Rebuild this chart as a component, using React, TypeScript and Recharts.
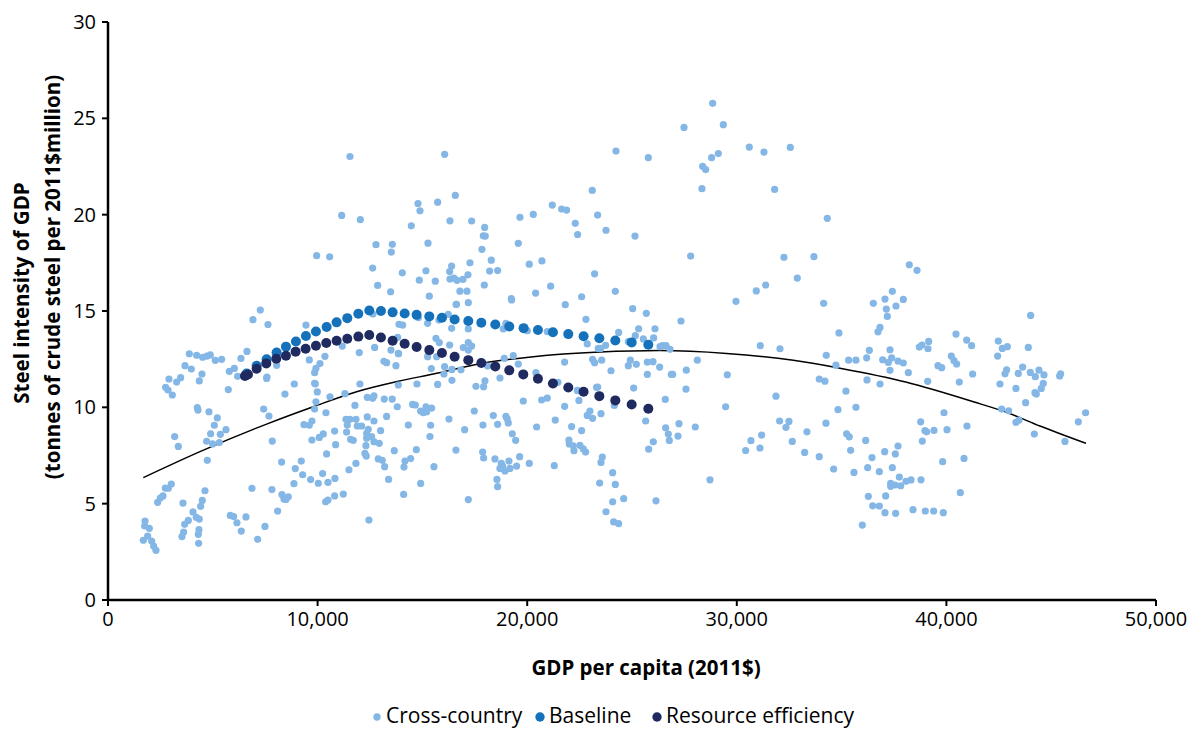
import React from 'react';
import { ScatterChart, Scatter, XAxis, YAxis, Legend } from 'recharts';

const FONT = '"Open Sans", sans-serif';
const LIGHT = '#85B7E6';
const MID = '#1571BA';
const DARK = '#1F2A60';

const crossCountry: [number, number][] = [
[3880,12.78],[4230,12.7],[4515,12.6],[4722,12.66],[4881,12.72],[5120,12.44],[5422,12.49],[3673,12.16],[3975,11.99],[4483,11.73],[4356,11.37],[3466,11.54],[3275,11.31],[2909,11.47],[2750,11.04],[2862,10.9],[3068,10.64],[5787,11.87],[6026,12.02],[6344,12.54],[6630,12.9],[6185,11.61],[5740,10.92],[8045,12.18],[7568,11.5],[7584,11.57],[8442,10.69],[8888,11.21],[9603,12.46],[10112,12.27],[9921,12.02],[10350,12.65],[9858,11.8],[9858,11.25],[9890,11.22],[9985,10.8],[9921,10.29],[9858,9.91],[10589,10.55],[10398,9.72],[11305,10.71],[11177,13.18],[11988,12.84],[12720,13.11],[12020,11.21],[12370,10.52],[12625,10.47],[12688,10.59],[13180,10.43],[13560,10.43],[13800,10.03],[11782,10.1],[13292,9.53],[13500,12.97],[13165,12.39],[13292,12.32],[13737,12.16],[13850,12.8],[13850,11.16],
[7266,15.05],[6916,14.55],[7632,14.3],[9445,14.27],[12640,14.84],
[4261,9.98],[4293,9.86],[4817,9.77],[5215,9.45],[5072,9.07],[5628,8.84],[4897,8.63],[5358,8.6],[4706,8.24],[4992,8.1],[5310,8.17],[3180,8.48],[3355,7.97],[4738,7.25],[7425,9.91],[7680,9.55],[9349,9.1],[9603,9.07],[9730,9.29],[7838,8.25],[9730,8.3],[10080,8.44],[10271,8.62],[10812,8.77],[10859,8.06],[10430,7.58],[11352,9.38],[11543,9.38],[11829,9.38],[11416,9.08],[12370,9.5],[12688,9.29],[11893,9.03],[12100,9.03],[12418,8.86],[11384,8.72],[11575,8.34],[11702,8.29],[12338,8.65],[12577,8.48],[12340,8.4],[12688,8.22],[12942,8.13],[13006,8.79],[12306,8.01],[13658,7.75],[12259,7.61],[12322,7.47],[12895,7.32],[13085,7.25],[13197,6.92],[13387,6.26],[11829,7.09],[11495,6.76],[9222,7.21],[8935,6.82],[8284,7.16],[9285,6.5],[9667,6.25],[10033,6.06],[10239,6.56],[10494,6.1],[10828,6.31],[8872,6.04],[6868,5.8],[7822,5.73],[8299,5.47],[8395,5.24],[8602,5.36],[8490,5.22],[11225,5.5],[10812,5.4],[10494,5.19],[10383,5.1],[8093,4.62],[12449,4.15],
[3021,6.02],[2734,5.81],[2878,5.8],[2623,5.4],[2496,5.29],[2369,5.07],[4627,5.67],[4499,5.17],[4420,4.86],[3577,5.03],[4054,4.57],[4213,4.29],[4356,4.2],[3832,4.13],[3657,3.93],[3609,3.53],[3529,3.29],[4340,3.65],[4309,3.41],[4324,2.94],[5835,4.39],[5994,4.33],[6153,4.01],[6582,4.31],[6360,3.58],[7490,3.82],[7139,3.15],[1765,4.1],[1749,3.84],[1971,3.72],[1892,3.32],[1685,3.1],[2083,3.06],[2178,2.8],[2289,2.58],
[13882,14.31],[14057,14.27],[13819,13.63],[13866,12.78],[14534,10.15],[14661,10.12],[14328,9.08],[15393,9.07],[15361,8.48],[14916,9.81],[15043,9.72],[15170,10.03],[15202,9.77],[15440,9.96],[14709,7.8],[14439,7.34],[14168,7.21],[14121,6.9],[15552,6.92],[14916,6.05],[14105,5.48],[16267,9.39],[17015,8.84],[16601,7.78],[17190,5.21],[17476,9.81],[18382,9.57],[18589,9.12],[17889,9.08],[18986,9.53],[19050,9.39],[19098,9.19],[19288,8.63],[19447,8.29],[20449,8.98],[21339,9.34],[21785,10.05],[19813,10.33],[20688,10.38],[20958,10.48],[22468,10.36],[22993,9.81],[22866,9.58],[23120,9.43],[22118,9],[22596,8.79],[21991,8.3],[22007,8.1],[22198,8],[22230,7.75],[22516,8.03],[22675,7.84],[22786,7.68],[21292,6.97],[20099,7.09],[19638,7.44],[19495,6.95],[19129,7.21],[18764,7.09],[18827,6.95],[18700,6.83],[18939,6.7],[19177,6.83],[18461,7.32],[17873,7.68],[17921,7.37],[18557,6.26],[18589,5.88],
[15250,12.63],[15679,12.63],[15647,13.58],[15806,13.36],[16299,13.23],[16951,13.1],[17190,13.36],[17349,13.18],[17190,12.97],[15425,12.01],[16061,12.11],[16029,11.73],[16410,11.97],[16840,11.95],[16410,11.4],[15727,11.19],[14741,11.21],[17555,11.09],[17921,11.07],[17985,11.38],[18700,11.52],[19575,12.25],[18907,12.54],[19336,12.68],[18112,12.14],[20417,11.8],[21467,11.3],[21785,12.35],[23120,12.49],[23215,12.32],[23310,11.04],[22437,10.86],[16235,14.83],[15790,14.53],[15250,14.36],[16394,14.1],[17190,14.07],[14805,14.65],[18859,14.07],[18986,14.36],[20004,13.98],[20958,13.93],[22802,14.57],[22866,13.29],[16617,15.35],[17190,15.43],[19256,15.57],[21816,15.33],[23390,13.06],
[11545,23.02],[16061,23.13],[16569,21],[14789,20.58],[15727,20.65],[14884,20.2],[11148,19.96],[12038,19.74],[16315,19.68],[17349,19.67],[17969,19.34],[17905,18.9],[18000,18.89],[14471,19.42],[12785,18.44],[13564,18.46],[13517,18.06],[15266,18.52],[17841,18.2],[9955,17.87],[10575,17.81],[12626,17.23],[14041,16.98],[15170,17.09],[16394,17.33],[16299,17.05],[17269,17.5],[17174,16.88],[18287,17.64],[18207,17.07],[18589,17.1],[14852,16.6],[15615,16.55],[16315,16.66],[16506,16.71],[16649,16.59],[16935,16.64],[12865,16.33],[13485,16],[15329,15.77],[16792,16.03],[17126,16.03],[17953,16.35],[16617,15.34],[19241,15.65],[19575,18.51],[19654,19.86],[20290,20.01],[21196,20.5],[21642,20.29],[21880,20.24],[22293,19.55],[22405,18.97],[23359,19.98],[23104,21.26],[20099,17.43],[20703,17.6],[21117,16.29],[20401,15.93],[22596,15.74],[23215,16.93],
[28847,25.78],[29356,24.67],[27480,24.53],[30596,23.51],[31296,23.25],[32552,23.49],[24236,23.3],[25779,22.96],[29118,23.17],[28800,22.96],[28370,22.51],[28513,22.34],[28338,21.35],[31805,21.31],[34317,19.81],[23759,19.19],[25143,18.89],[27798,17.85],[32250,17.79],[33680,17.82],[32886,16.71],[31375,16.35],[30930,16.04],[29960,15.5],[34142,15.4],[24204,16.02],[25031,15.12],[25683,14.88],[27337,14.48],[26097,14.08],[25317,14.08],[34873,13.86],[24363,13.89],[25158,13.72],[25540,13.55],[26033,13.6],[24825,13.41],[23743,13.22],[23505,13.06],[26335,13.15],[26621,13.2],[26812,13.01],[26450,13.2],[31121,13.2],[32059,13.04],
[34269,12.7],[34730,12.19],[35334,12.45],[35684,12.45],[28116,12.45],[23553,12.45],[23998,11.9],[24920,12.45],[24825,12.16],[25206,12.23],[25731,12.35],[26001,12.37],[26319,12.09],[25731,11.71],[26876,11.71],[26940,11.71],[27591,11.93],[29547,11.69],[27575,10.95],[25079,11],[23362,11.05],[22392,10.88],[33935,11.47],[34206,11.36],[35207,10.84],[31868,10.58],[26589,10.41],[29467,10.03],[24157,10.1],[34826,9.88],[35684,10],[23521,9.67],[25651,9.29],[32043,9.29],[32488,9.27],[32345,8.96],[34253,9.18],[33347,8.73],[31184,8.56],[30676,8.27],[32647,8.23],[31105,7.89],[30422,7.76],[33236,7.66],[33935,7.44],[35239,8.63],[35366,8.47],[35430,7.77],[34619,6.8],[35589,6.62],[26605,8.94],[27241,9.15],[28020,8.98],[26732,8.61],[27193,8.51],[26780,8.28],[26017,8.21],[25794,7.83],[28720,6.24],[23584,7.42],[23521,7.14],[24077,6.61],[23457,6.07],[24204,6],[24077,5.1],[24602,5.26],[26144,5.15],[23759,4.58],[24125,4.05],[24363,3.96],
[38231,17.4],[38597,17.11],[37420,16.02],[37070,15.62],[37945,15.6],[36514,15.4],[37595,15.26],[37134,15.1],[37182,14.72],[36832,14.15],[36737,13.92],[40457,13.8],[39154,13.42],[40966,13.49],[41205,13.2],[38708,13.13],[38835,13.23],[39122,13.04],[36323,12.96],[37309,12.99],[36196,12.57],[36959,12.47],[37230,12.33],[37388,12.57],[37691,12.4],[37945,12.3],[37309,11.92],[38184,11.8],[36212,11.42],[36832,11.21],[39106,11.35],[40235,12.66],[40362,12.42],[40489,12.25],[39599,12.16],[39774,12.06],[41252,11.73],[40616,11.31],[42476,13.44],[42445,12.66],[42667,13.06],[42906,13.15],[43907,13.11],[44019,14.77],[43637,12.09],[44003,11.81],[44416,11.93],[43430,11.76],[42874,11.95],[42795,11.74],[44241,11.59],[44655,11.68],[44623,11.24],[44528,10.98],[44225,10.76],[44289,10.69],[43319,10.98],[42556,11.21],[43780,10.24],[45450,11.74],[45402,11.63],[42636,9.91],[42969,9.82],[43462,9.34],[43319,9.22],[44194,8.61],[45657,8.23],[46293,9.25],[46642,9.72],[39885,9.72],[38772,9.25],[38979,8.79],[39058,8.73],[39408,8.8],[40028,8.84],[40982,9.03],[38851,8.25],[36148,8.28],[37691,7.99],[37055,7.7],[37563,7.58],[36450,7.39],[36244,6.87],[36800,6.66],[37420,6.87],[37754,6.38],[37341,6.05],[37341,5.9],[37547,5.97],[37818,5.93],[38072,6.16],[38311,6.23],[38788,6.24],[39821,7.18],[40839,7.35],[40664,5.57],[36276,5.38],[37102,5.4],[36482,4.89],[36800,4.88],[37070,4.53],[37579,4.5],[38406,4.69],[38994,4.62],[39392,4.62],[39853,4.53],[35989,3.89],
];

const baseline: [number, number][] = [
[6614,11.76],[7091,12.16],[7568,12.49],[8045,12.84],[8490,13.15],[8967,13.42],[9444,13.7],[9921,13.94],[10430,14.17],[10907,14.41],[11416,14.63],[11943,14.86],[12465,15.03],[13022,15.0],[13578,14.93],[14153,14.87],[14725,14.8],[15329,14.72],[15933,14.65],[16538,14.56],[17190,14.48],[17810,14.39],[18477,14.3],[19145,14.2],[19829,14.11],[20513,14.01],[21228,13.9],[21960,13.8],[22691,13.69],[23441,13.59],[24204,13.47],[24984,13.37],[25779,13.25],
];

const resourceEfficiency: [number, number][] = [
[6535,11.63],[6678,11.7],[7091,12.0],[7552,12.28],[8029,12.52],[8490,12.68],[8951,12.89],[9429,13.04],[9921,13.2],[10414,13.34],[10907,13.46],[11416,13.56],[11943,13.67],[12465,13.75],[13022,13.62],[13578,13.46],[14153,13.3],[14725,13.13],[15329,12.97],[15933,12.82],[16538,12.63],[17190,12.45],[17810,12.3],[18477,12.12],[19145,11.92],[19813,11.71],[20513,11.48],[21228,11.24],[21960,11.03],[22691,10.81],[23441,10.58],[24204,10.36],[24984,10.15],[25779,9.93],
];

const trend: [number, number][] = [
[1685,6.35],[4388,7.7],[7568,9.13],[9794,10.03],[11861,10.81],[13850,11.35],[15520,11.73],[17825,12.28],[20290,12.63],[23470,12.87],[26335,12.95],[29515,12.8],[32695,12.44],[34924,12.03],[38104,11.3],[41284,10.29],[42874,9.74],[44464,9.03],[46658,8.13],
];

const xTicks = [0, 10000, 20000, 30000, 40000, 50000];
const yTicks = [0, 5, 10, 15, 20, 25, 30];
const legendItems = [
  { label: 'Cross-country', color: LIGHT, r: 3.7, left: 371, text: 386 },
  { label: 'Baseline', color: MID, r: 4.7, left: 534, text: 549 },
  { label: 'Resource efficiency', color: DARK, r: 4.7, left: 651, text: 666 },
];

const toPts = (a: [number, number][]) => a.map(([x, y]) => ({ x, y }));
const dot = (r: number, fill: string) => (p: any) => <circle cx={p.cx} cy={p.cy} r={r} fill={fill} />;

const YLabel = () => (
  <g fontFamily={FONT} fontWeight={700} fontSize={20.5} fill="#000" textAnchor="middle">
    <text transform="translate(29,293) rotate(-90)">Steel intensity of GDP</text>
    <text transform="translate(60,277) rotate(-90)">(tonnes of crude steel per 2011$million)</text>
  </g>
);

const LegendRow = () => (
  <div style={{ position: 'relative', height: 20, width: 1200, fontFamily: FONT, fontSize: 21, lineHeight: '20px', color: '#000' }}>
    {legendItems.map((it) => (
      <React.Fragment key={it.label}>
        <svg style={{ position: 'absolute', left: it.left, top: 6 }} width={12} height={12}>
          <circle cx={6} cy={6} r={it.r} fill={it.color} />
        </svg>
        <span style={{ position: 'absolute', left: it.text, top: 0, whiteSpace: 'nowrap' }}>{it.label}</span>
      </React.Fragment>
    ))}
  </div>
);

export default function App() {
  return (
    <div style={{ position: 'absolute', left: 0, top: 0, width: 1200, height: 729, background: '#fff', overflow: 'hidden' }}>
      <ScatterChart width={1200} height={729} margin={{ top: 22, right: 44, bottom: 0, left: 0 }}>
        <XAxis
          type="number"
          dataKey="x"
          domain={[0, 50000]}
          ticks={xTicks}
          height={109}
          tick={{ fontFamily: FONT, fontSize: 20, fill: '#000' }}
          tickLine={{ stroke: '#000', strokeWidth: 2 }}
          axisLine={{ stroke: '#000', strokeWidth: 2.5 }}
          tickSize={6}
          tickMargin={6}
          tickFormatter={(v: number) => v.toLocaleString('en-US')}
          label={{ value: 'GDP per capita (2011$)', position: 'insideTop', offset: 60, dx: 14, fontFamily: FONT, fontWeight: 700, fontSize: 20.5, fill: '#000' }}
        />
        <YAxis
          type="number"
          dataKey="y"
          domain={[0, 30]}
          ticks={yTicks}
          width={108}
          tick={{ fontFamily: FONT, fontSize: 20, fill: '#000' }}
          tickLine={{ stroke: '#000', strokeWidth: 2 }}
          axisLine={{ stroke: '#000', strokeWidth: 2.5 }}
          tickSize={6}
          tickMargin={6}
          label={{ content: () => <YLabel /> }}
        />
        <Scatter name="Trend" data={toPts(trend)} line={{ stroke: '#000', strokeWidth: 1.5 }} lineJointType="monotoneX" shape={() => <g />} legendType="none" isAnimationActive={false} />
        <Scatter name="Cross-country" data={toPts(crossCountry)} shape={dot(3.6, LIGHT)} isAnimationActive={false} />
        <Scatter name="Baseline" data={toPts(baseline)} shape={dot(5, MID)} isAnimationActive={false} />
        <Scatter name="Resource efficiency" data={toPts(resourceEfficiency)} shape={dot(5, DARK)} isAnimationActive={false} />
        <Legend content={() => <LegendRow />} wrapperStyle={{ position: 'absolute', left: 0, top: 705, width: 1200, height: 20 }} />
      </ScatterChart>
    </div>
  );
}
